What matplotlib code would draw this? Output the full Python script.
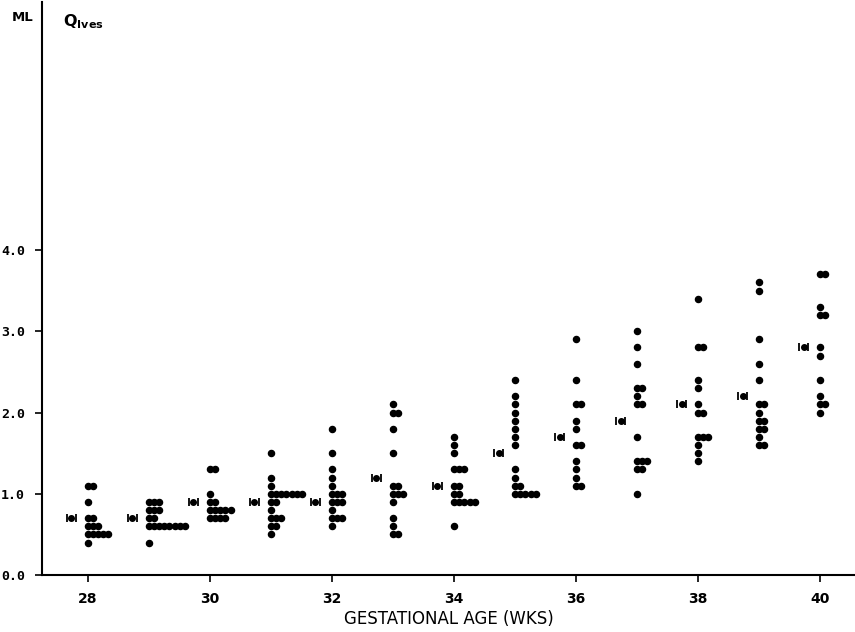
import numpy as np
import matplotlib
matplotlib.use("Agg")
import matplotlib.pyplot as plt

# gestational age (weeks) and mean bladder volume per week
weeks = [28, 29, 30, 31, 32, 33, 34, 35, 36, 37, 38, 39, 40]
means = [0.7, 0.7, 0.9, 0.9, 0.9, 1.2, 1.1, 1.5, 1.7, 1.9, 2.1, 2.2, 2.8]

# individual observations: (value, count) per week
obs = {
    28: [(1.1, 2), (0.9, 1), (0.7, 2), (0.6, 3), (0.5, 5), (0.4, 1)],
    29: [(0.9, 3), (0.8, 3), (0.7, 2), (0.6, 8), (0.4, 1)],
    30: [(1.3, 2), (1.0, 1), (0.9, 2), (0.8, 5), (0.7, 4)],
    31: [(1.5, 1), (1.2, 1), (1.1, 1), (1.0, 7), (0.9, 2), (0.8, 1), (0.7, 3), (0.6, 2), (0.5, 1)],
    32: [(1.8, 1), (1.5, 1), (1.3, 1), (1.2, 1), (1.1, 1), (1.0, 3), (0.9, 3), (0.8, 1), (0.7, 3), (0.6, 1)],
    33: [(2.1, 1), (2.0, 2), (1.8, 1), (1.5, 1), (1.1, 2), (1.0, 3), (0.9, 1), (0.7, 1), (0.6, 1), (0.5, 2)],
    34: [(1.7, 1), (1.6, 1), (1.5, 1), (1.3, 3), (1.1, 2), (1.0, 2), (0.9, 5), (0.6, 1)],
    35: [(2.4, 1), (2.2, 1), (2.1, 1), (2.0, 1), (1.9, 1), (1.8, 1), (1.7, 1), (1.6, 1), (1.3, 1), (1.2, 1), (1.1, 2), (1.0, 5)],
    36: [(2.9, 1), (2.4, 1), (2.1, 2), (1.9, 1), (1.8, 1), (1.6, 2), (1.4, 1), (1.3, 1), (1.2, 1), (1.1, 2)],
    37: [(3.0, 1), (2.8, 1), (2.6, 1), (2.3, 2), (2.2, 1), (2.1, 2), (1.7, 1), (1.4, 3), (1.3, 2), (1.0, 1)],
    38: [(3.4, 1), (2.8, 2), (2.4, 1), (2.3, 1), (2.1, 1), (2.0, 2), (1.7, 3), (1.6, 1), (1.5, 1), (1.4, 1)],
    39: [(3.6, 1), (3.5, 1), (2.9, 1), (2.6, 1), (2.4, 1), (2.1, 2), (2.0, 1), (1.9, 2), (1.8, 2), (1.7, 1), (1.6, 2)],
    40: [(3.7, 2), (3.3, 1), (3.2, 2), (2.8, 1), (2.7, 1), (2.4, 1), (2.2, 1), (2.1, 2), (2.0, 1)],
}

fig = plt.figure(figsize=(8.55, 6.32), dpi=100)
ax = fig.add_axes([0.049, 0.090, 0.951, 0.907])

# dots, repeated values stacked sideways
xs, ys = [], []
for w in weeks:
    for v, n in obs[w]:
        for i in range(n):
            xs.append(w + i * 0.085)
            ys.append(v)
ax.plot(xs, ys, "o", color="black", ms=4.4, mec="black", lw=0)

# mean markers  |o|
mx = np.array(weeks) - 0.27
ax.errorbar(mx, means, xerr=0.075, fmt="o", color="black", ms=4.0,
            elinewidth=0, capsize=3.2, capthick=1.3)

ax.set_xlim(27.25, 40.57)
ax.set_ylim(0, 7.05)
for s in ["top", "right"]:
    ax.spines[s].set_visible(False)
ax.spines["left"].set_linewidth(1.5)
ax.spines["bottom"].set_linewidth(1.5)

ax.set_xticks([28, 30, 32, 34, 36, 38, 40])
ax.set_xticklabels(["28", "30", "32", "34", "36", "38", "40"],
                   fontsize=10, fontweight="bold", family="DejaVu Sans")
ax.set_yticks([0, 1, 2, 3, 4])
ax.set_yticklabels(["0.0", "1.0", "2.0", "3.0", "4.0"],
                   fontsize=9.5, fontweight="bold", family="DejaVu Sans Mono")
ax.tick_params(axis="both", direction="out", length=5, width=1.2, pad=7)

ax.set_xlabel("GESTATIONAL AGE (WKS)", fontsize=12, labelpad=3)
fig.text(0.026, 0.972, "ML", fontsize=9.5, fontweight="bold", ha="center", va="center")
fig.text(0.074, 0.966, r"Q$_{\mathregular{Ives}}$", fontsize=11.5, fontweight="bold",
         ha="left", va="center")

fig.savefig("out.png", dpi=100)
